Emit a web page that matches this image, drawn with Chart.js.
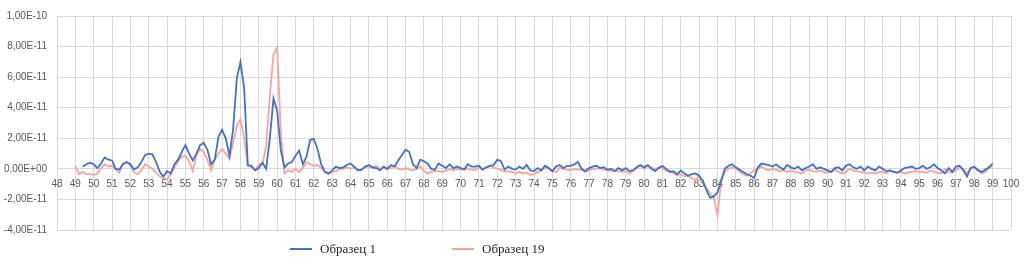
<!DOCTYPE html>
<html>
<head>
<meta charset="utf-8">
<script src="https://cdn.jsdelivr.net/npm/chart.js@4.4.1/dist/chart.umd.min.js"></script>
<style>
    html, body { margin: 0; padding: 0; background: #fff; }
    #wrap { position: relative; width: 1033px; height: 265px; }
    #legend { position: absolute; left: 0; top: 239px; width: 1033px; height: 20px;
        font-family: "Liberation Serif", "Times New Roman", serif; font-size: 13px; color: #262626; }
    .item { position: absolute; top: 0; line-height: 20px; white-space: nowrap; }
    .swatch { display: inline-block; width: 22px; height: 2px; vertical-align: middle; margin-right: 8px; position: relative; top: -1px; }
</style>
</head>
<body>
<div id="wrap">
    <canvas id="chart"></canvas>
    <div id="legend">
        <div class="item" style="left:290px"><span class="swatch" style="background:#4472c4"></span>Образец 1</div>
        <div class="item" style="left:452px"><span class="swatch" style="background:#f4a7a0"></span>Образец 19</div>
    </div>
</div>
<script>
// x grid of the samples: 49 .. 99 every 0.2
var xStart = 49;
var xStep = 0.2;

// values in units of 1E-11, one line per unit of x (5 samples)
var obrazec1 = [
    null, null, 0.15, 0.3, 0.4,
    0.3, 0.05, 0.35, 0.75, 0.6,
    0.55, 0.0, -0.05, 0.3, 0.45,
    0.3, -0.05, 0.1, 0.45, 0.9,
    1.0, 0.95, 0.45, -0.2, -0.5,
    -0.15, -0.3, 0.3, 0.6, 1.1,
    1.55, 1.0, 0.55, 1.0, 1.55,
    1.7, 1.25, 0.3, 0.6, 2.1,
    2.55, 2.0, 0.85, 2.6, 5.9,
    7.0, 5.3, 0.25, 0.2, -0.1,
    0.05, 0.4, 0.0, 2.0, 4.6,
    3.8, 1.2, 0.1, 0.35, 0.45,
    0.85, 1.2, 0.3, 0.8, 1.9,
    1.95, 1.3, 0.3, -0.2, -0.3,
    -0.1, 0.15, 0.05, 0.1, 0.25,
    0.35, 0.15, -0.1, -0.05, 0.15,
    0.25, 0.1, 0.05, -0.1, 0.15,
    0.0, 0.25, 0.15, 0.55, 0.9,
    1.25, 1.1, 0.3, 0.05, 0.6,
    0.5, 0.35, 0.0, -0.05, 0.35,
    0.2, 0.05, 0.3, 0.05, 0.15,
    0.05, -0.05, 0.3, 0.15, 0.15,
    0.2, -0.05, 0.1, 0.2, 0.25,
    0.6, 0.5, -0.05, 0.15, 0.0,
    -0.05, 0.15, 0.0, 0.25, -0.1,
    -0.15, 0.05, -0.1, 0.2, 0.05,
    -0.15, 0.15, 0.25, 0.05, 0.2,
    0.2, 0.3, 0.45, 0.0, -0.15,
    0.05, 0.15, 0.2, 0.05, 0.1,
    -0.05, 0.0, -0.15, 0.05, -0.1,
    0.05, -0.15, -0.1, 0.1, 0.25,
    0.1, 0.25, 0.0, -0.15, 0.05,
    0.2, 0.0, -0.2, -0.15, -0.35,
    -0.1, -0.3, -0.45, -0.35, -0.3,
    -0.45, -0.8, -1.4, -1.9, -1.8,
    -1.55, -0.8, 0.0, 0.2, 0.3,
    0.1, -0.05, -0.2, -0.35, -0.45,
    -0.6, 0.1, 0.35, 0.3, 0.25,
    0.15, 0.3, 0.1, -0.05, 0.25,
    0.1, 0.0, 0.15, -0.1, 0.05,
    0.15, 0.3, 0.0, 0.1, 0.0,
    -0.1, -0.2, 0.05, 0.1, -0.1,
    0.2, 0.3, 0.1, 0.0, 0.15,
    -0.1, 0.15, 0.0, -0.1, 0.15,
    0.0, -0.15, -0.1, -0.2, -0.25,
    -0.1, 0.05, 0.1, 0.15, 0.0,
    0.05, 0.2, 0.0, 0.1, 0.3,
    0.05, -0.1, -0.3, 0.05, -0.2,
    0.15, 0.2, -0.1, -0.5, 0.05,
    0.15, -0.1, -0.2, -0.05, 0.1,
    0.35
];

var obrazec19 = [
    0.2, -0.35, -0.2, -0.35, -0.35,
    -0.4, -0.3, 0.05, 0.3, 0.15,
    0.2, -0.05, -0.25, 0.35, 0.45,
    0.2, -0.2, -0.35, -0.1, 0.3,
    0.15, 0.0, -0.25, -0.5, -0.6,
    -0.7, -0.35, 0.05, 0.5, 0.8,
    0.85, 0.5, -0.15, 0.9, 1.3,
    1.1, 0.6, -0.1, 0.6, 1.0,
    1.3, 1.0, 0.65, 1.7, 2.8,
    3.25, 2.0, 0.2, 0.1, -0.1,
    0.3, 0.3, 1.5, 4.7, 7.5,
    7.95, 2.4, -0.3, -0.1, -0.2,
    0.0, -0.2, 0.05, 0.45, 0.3,
    0.2, 0.25, 0.05, -0.2, -0.35,
    -0.2, -0.15, 0.0, 0.0, 0.1,
    0.0, 0.1, -0.05, -0.1, 0.15,
    0.1, 0.1, 0.2, 0.0, 0.05,
    -0.05, 0.05, 0.2, 0.0, -0.05,
    0.05, -0.05, -0.1, 0.0, 0.15,
    -0.15, -0.3, -0.2, -0.15, -0.15,
    -0.2, -0.1, 0.0, -0.1, 0.0,
    -0.05, 0.05, 0.0, -0.05, -0.1,
    0.1, -0.05, 0.1, 0.2, 0.1,
    0.0, -0.05, -0.2, -0.15, -0.2,
    -0.3, -0.2, -0.3, -0.25, -0.4,
    -0.35, -0.2, -0.1, 0.1, 0.0,
    -0.15, -0.2, 0.05, 0.0, -0.05,
    -0.1, 0.0, -0.05, -0.05, -0.2,
    -0.1, 0.0, 0.0, 0.05, -0.05,
    -0.1, -0.15, -0.1, -0.15, -0.2,
    -0.15, -0.3, -0.15, 0.1, 0.2,
    0.0, 0.2, 0.1, -0.05, 0.1,
    0.05, -0.15, -0.1, -0.3, -0.4,
    -0.35, -0.5, -0.45, -0.6, -0.75,
    -0.5, -0.8, -1.25, -1.6, -1.9,
    -3.05, -0.8, -0.2, 0.0, 0.1,
    0.05, -0.2, -0.35, -0.45, -0.3,
    -0.1, 0.0, 0.15, 0.0, -0.1,
    0.0, -0.05, -0.15, -0.1, -0.2,
    -0.1, -0.2, -0.25, -0.3, -0.1,
    -0.05, -0.15, -0.2, -0.1, -0.2,
    -0.25, -0.2, -0.05, -0.2, -0.3,
    -0.2, 0.0, -0.1, -0.15, -0.2,
    -0.25, -0.3, -0.25, -0.3, -0.2,
    -0.2, -0.3, -0.1, -0.2, -0.25,
    -0.2, -0.3, -0.25, -0.2, -0.15,
    -0.2, -0.2, -0.25, -0.1, -0.2,
    -0.25, -0.3, 0.0, -0.2, -0.25,
    -0.1, 0.1, 0.0, -0.3, 0.05,
    0.05, -0.05, -0.3, -0.2, 0.05,
    0.2
];

// axis ranges (1E-11 units on y)
var xMin = 48, xMax = 100;
var yMin = -4, yMax = 10, yStep = 2;

function toPoints(arr) {
    var pts = [];
    for (var i = 0; i < arr.length; i++) {
        pts.push({ x: +(xStart + i * xStep).toFixed(1), y: arr[i] });
    }
    return pts;
}

// 10 -> "1,00E-10", 0 -> "0,00E+00"
function formatE(v) {
    if (v === 0) return '0,00E+00';
    var s = (v * 1e-11).toExponential(2).split('e');
    var sign = s[1].charAt(0) === '-' ? '-' : '+';
    var exp = s[1].replace(/[+-]/, '');
    if (exp.length < 2) exp = '0' + exp;
    return s[0].replace('.', ',') + 'E' + sign + exp;
}

var gridColor = '#d9d9d9';
var tickFont = { family: '"Liberation Sans", Arial, sans-serif', size: 10 };

var ctx = document.getElementById('chart');
var graphique = new Chart(ctx, {
    type: 'line',
    data: {
        datasets: [{
            label: 'Образец 1',
            data: toPoints(obrazec1),
            borderColor: '#4472c4',
            backgroundColor: '#4472c4',
            borderWidth: 1.8,
            pointRadius: 0,
            tension: 0
        }, {
            label: 'Образец 19',
            data: toPoints(obrazec19),
            borderColor: '#f4a7a0',
            backgroundColor: '#f4a7a0',
            borderWidth: 1.8,
            pointRadius: 0,
            tension: 0
        }]
    },
    options: {
        responsive: true,
        maintainAspectRatio: false,
        animation: false,
        layout: { padding: { top: 11, right: 22, bottom: 35, left: 0 } },
        plugins: {
            legend: { display: false },
            tooltip: { enabled: false }
        },
        scales: {
            x: {
                type: 'linear',
                position: { y: 0 },
                min: xMin,
                max: xMax,
                ticks: {
                    stepSize: 1,
                    autoSkip: false,
                    maxRotation: 0,
                    padding: 9,
                    color: '#595959',
                    font: tickFont
                },
                grid: { color: gridColor, drawTicks: false },
                border: { color: gridColor }
            },
            y: {
                min: yMin,
                max: yMax,
                ticks: {
                    stepSize: yStep,
                    padding: 10,
                    color: '#595959',
                    font: tickFont,
                    callback: function (v) { return formatE(v); }
                },
                grid: { color: gridColor, drawTicks: false },
                border: { display: false },
                afterFit: function (scale) { scale.width = 57; }
            }
        }
    }
});
</script>
</body>
</html>
